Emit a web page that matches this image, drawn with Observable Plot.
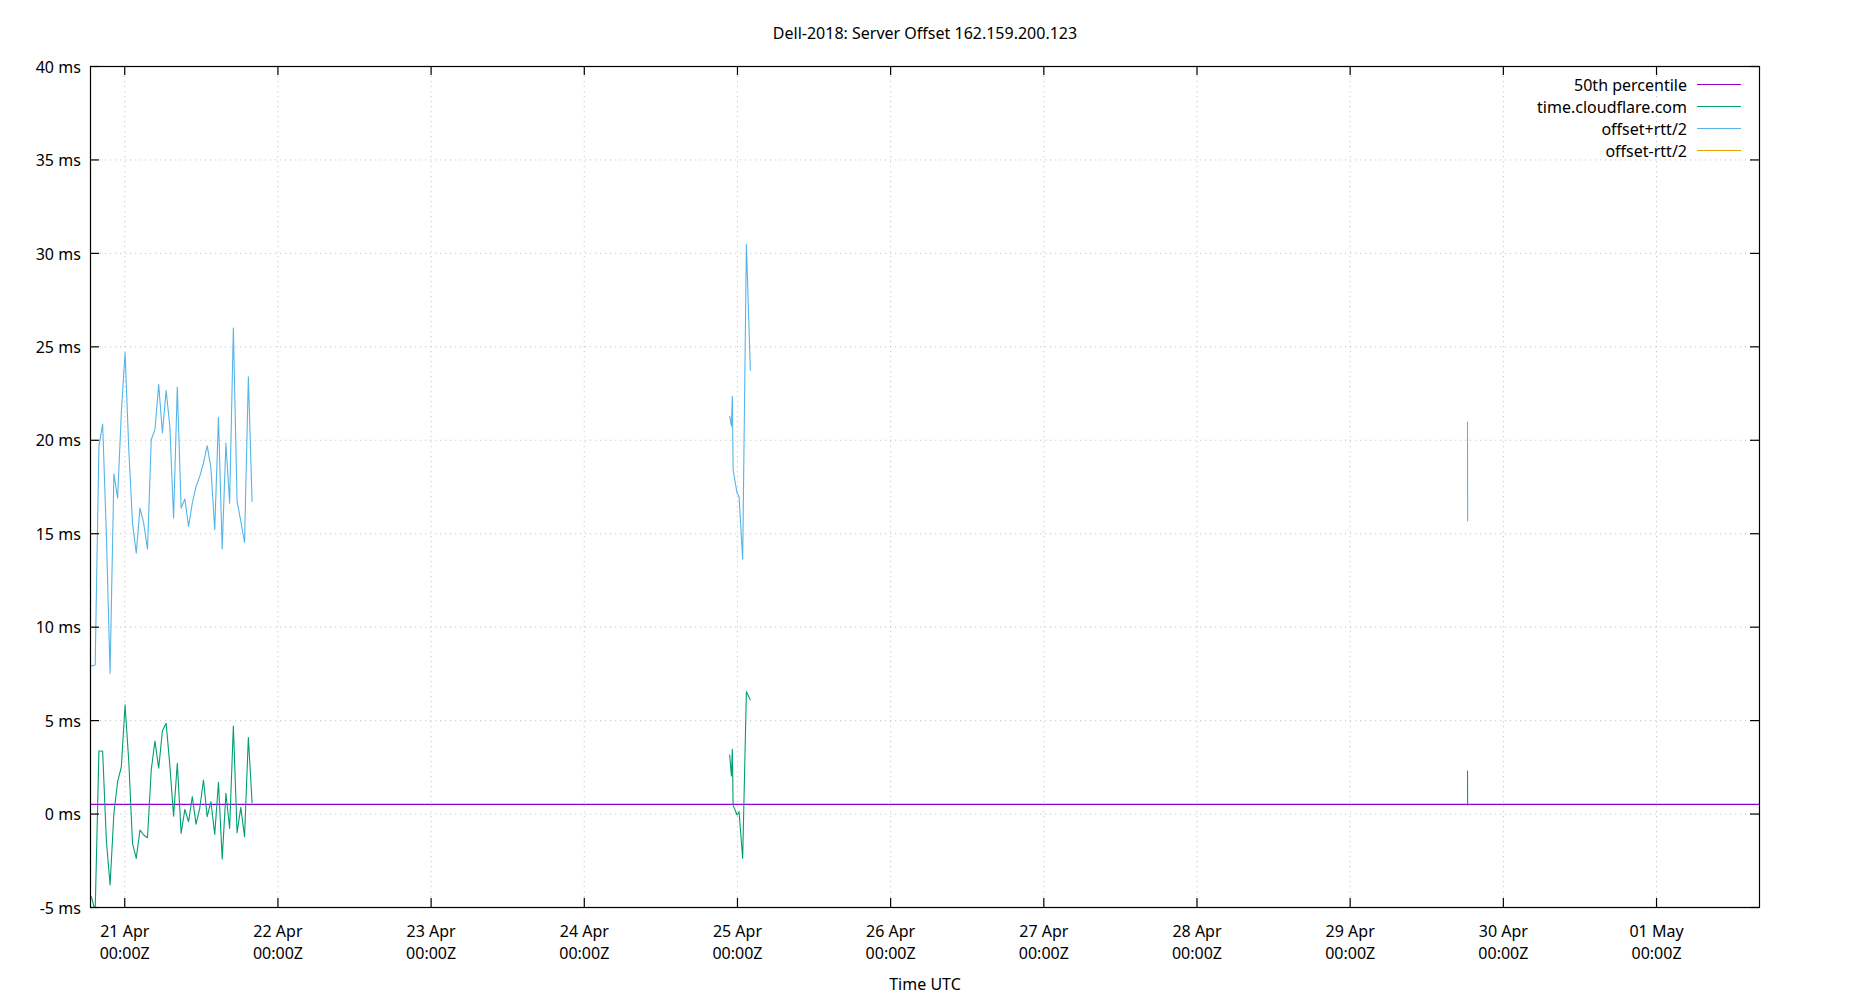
<!DOCTYPE html>
<html><head><meta charset="utf-8">
<script src="https://cdn.jsdelivr.net/npm/d3@7"></script>
<script src="https://cdn.jsdelivr.net/npm/@observablehq/plot@0.6"></script>
<style>
body{margin:0;background:#fff;}
#wrap{position:relative;width:1850px;height:1000px;font-family:"Noto Sans",sans-serif;}
#legend{position:absolute;right:109px;top:74px;}
.row{display:flex;justify-content:flex-end;align-items:center;height:21.9px;font-size:16px;color:#000;white-space:nowrap;}
.sw{width:44px;height:1px;margin-left:10px;}
</style></head><body><div id="wrap"><div id="legend"></div></div>
<script>
const titleText = "Dell-2018: Server Offset 162.159.200.123";
const xLabel = "Time UTC";
const seriesNames = ["50th percentile", "time.cloudflare.com", "offset+rtt/2", "offset-rtt/2"];
const seriesColors = ["#9400d3", "#009e73", "#56b4e9", "#e69f00"];
const median50 = 0.52;

const xDomain = ["2024-04-20T18:38Z", "2024-05-01T16:08Z"];
const xTickDates = ["2024-04-21","2024-04-22","2024-04-23","2024-04-24","2024-04-25","2024-04-26","2024-04-27","2024-04-28","2024-04-29","2024-04-30","2024-05-01"];
const yTicks = [-5, 0, 5, 10, 15, 20, 25, 30, 35, 40];

// cluster 1 (20-21 Apr)
const leftTimes = ["2024-04-20T18:47Z","2024-04-20T19:22Z","2024-04-20T19:57Z","2024-04-20T20:32Z","2024-04-20T21:07Z","2024-04-20T21:42Z","2024-04-20T22:18Z","2024-04-20T22:53Z","2024-04-20T23:28Z","2024-04-21T00:03Z","2024-04-21T00:38Z","2024-04-21T01:13Z","2024-04-21T01:48Z","2024-04-21T02:23Z","2024-04-21T02:58Z","2024-04-21T03:34Z","2024-04-21T04:09Z","2024-04-21T04:44Z","2024-04-21T05:19Z","2024-04-21T05:54Z","2024-04-21T06:29Z","2024-04-21T07:04Z","2024-04-21T07:39Z","2024-04-21T08:14Z","2024-04-21T08:50Z","2024-04-21T09:25Z","2024-04-21T10:00Z","2024-04-21T10:35Z","2024-04-21T11:10Z","2024-04-21T11:45Z","2024-04-21T12:20Z","2024-04-21T12:55Z","2024-04-21T13:30Z","2024-04-21T14:06Z","2024-04-21T14:41Z","2024-04-21T15:16Z","2024-04-21T15:51Z","2024-04-21T16:26Z","2024-04-21T17:01Z","2024-04-21T17:36Z","2024-04-21T18:11Z","2024-04-21T18:46Z","2024-04-21T19:22Z","2024-04-21T19:57Z"];
const leftOffset = [-4.43,-5.2,3.37,3.37,-1.4,-3.8,0.04,1.73,2.53,5.84,2.8,-1.57,-2.37,-0.86,-1.12,-1.27,2.36,3.91,2.45,4.46,4.86,2.6,-0.11,2.72,-1.03,0.25,-0.41,0.93,-0.54,0.31,1.82,-0.14,0.66,-1.09,1.7,-2.41,1.11,-0.77,4.71,-1.0,0.36,-1.21,4.09,0.61];
const leftUpper = [7.93,7.98,19.67,20.87,15.0,7.53,18.2,16.9,21.5,24.7,19.5,15.57,13.96,16.37,15.57,14.18,20.03,20.57,22.98,20.39,22.66,20.75,15.84,22.85,16.37,16.86,15.39,16.63,17.53,18.07,18.78,19.71,18.52,15.21,21.23,14.18,19.85,16.63,26.01,16.73,15.66,14.53,23.39,16.73];

// cluster 2 (24-25 Apr)
const midTimes = ["2024-04-24T22:47Z","2024-04-24T23:03Z","2024-04-24T23:12Z","2024-04-24T23:19Z","2024-04-24T23:56Z","2024-04-25T00:15Z","2024-04-25T00:49Z","2024-04-25T01:24Z","2024-04-25T02:01Z"];
const midOffset = [3.16,2.04,3.47,0.48,-0.05,0.12,-2.37,6.55,6.11];
const midUpper = [21.28,20.75,22.35,18.43,17.18,17.0,13.64,30.48,23.75];

// cluster 3 (29 Apr)
const rightTimes = ["2024-04-29T18:23Z","2024-04-29T18:24Z"];
const rightOffset = [2.3,0.48];
const rightUpper = [20.98,15.69];

const rows = [];
function addCluster(times, offset, upper, seg) {
  times.forEach((t, i) => {
    const time = new Date(t);
    rows.push({time, value: offset[i], series: seriesNames[1], seg});
    rows.push({time, value: upper[i], series: seriesNames[2], seg});
    rows.push({time, value: 2 * offset[i] - upper[i], series: seriesNames[3], seg});
  });
}
addCluster(leftTimes, leftOffset, leftUpper, 0);
addCluster(midTimes, midOffset, midUpper, 1);
addCluster(rightTimes, rightOffset, rightUpper, 2);

const W = 1850, H = 1000, mL = 90, mR = 91, mT = 66, mB = 93;
const frameW = W - mL - mR, frameH = H - mT - mB;
const tickLen = 9;
const xt = xTickDates.map(d => new Date(d));
const gridStyle = {stroke: "#999", strokeOpacity: 0.55, strokeDasharray: "1.2,3.8", strokeWidth: 1};

const chart = Plot.plot({
  width: W, height: H,
  marginLeft: mL, marginRight: mR, marginTop: mT, marginBottom: mB,
  style: {fontFamily: "Noto Sans", fontSize: "16px", color: "black", background: "white", overflow: "visible"},
  x: {type: "utc", domain: xDomain.map(d => new Date(d))},
  y: {domain: [-5, 40]},
  color: {domain: seriesNames, range: seriesColors},
  marks: [
    Plot.ruleX(xt, {x: d => d, ...gridStyle}),
    Plot.ruleY(yTicks, {y: d => d, ...gridStyle}),
    Plot.ruleY([median50], {y: d => d, stroke: seriesColors[0], strokeWidth: 1.2}),
    Plot.line(rows, {x: "time", y: "value", z: d => d.series + "|" + d.seg, stroke: "series", strokeWidth: 1.1, clip: true}),
    Plot.frame({stroke: "black", strokeWidth: 1.2}),
    Plot.tickX(xt, {x: d => d, insetTop: frameH - tickLen, stroke: "black", strokeWidth: 1.2}),
    Plot.tickX(xt, {x: d => d, insetBottom: frameH - tickLen, stroke: "black", strokeWidth: 1.2}),
    Plot.tickY(yTicks, {y: d => d, insetRight: frameW - tickLen, stroke: "black", strokeWidth: 1.2}),
    Plot.tickY(yTicks, {y: d => d, insetLeft: frameW - tickLen, stroke: "black", strokeWidth: 1.2}),
    Plot.axisX(xt, {tickSize: 0, tickPadding: 14.2, tickFormat: d3.utcFormat("%d %b\n%H:%MZ"), fontSize: 16, lineHeight: 1.38, label: null}),
    Plot.axisY(yTicks, {tickSize: 0, tickPadding: 9.7, dy: 1, tickFormat: d => `${d} ms`, fontSize: 16, label: null}),
    Plot.text([titleText], {text: d => d, frameAnchor: "top", dy: -39.3, lineAnchor: "top", fontSize: 16}),
    Plot.text([xLabel], {text: d => d, frameAnchor: "bottom", dy: 71.3, lineAnchor: "top", fontSize: 16})
  ]
});
const wrap = document.getElementById("wrap");
wrap.insertBefore(chart, wrap.firstChild);

const legend = document.getElementById("legend");
seriesNames.forEach((name, i) => {
  const row = document.createElement("div");
  row.className = "row";
  const label = document.createElement("span");
  label.textContent = name;
  const sw = document.createElement("span");
  sw.className = "sw";
  sw.style.background = seriesColors[i];
  row.appendChild(label);
  row.appendChild(sw);
  legend.appendChild(row);
});
</script></body></html>
